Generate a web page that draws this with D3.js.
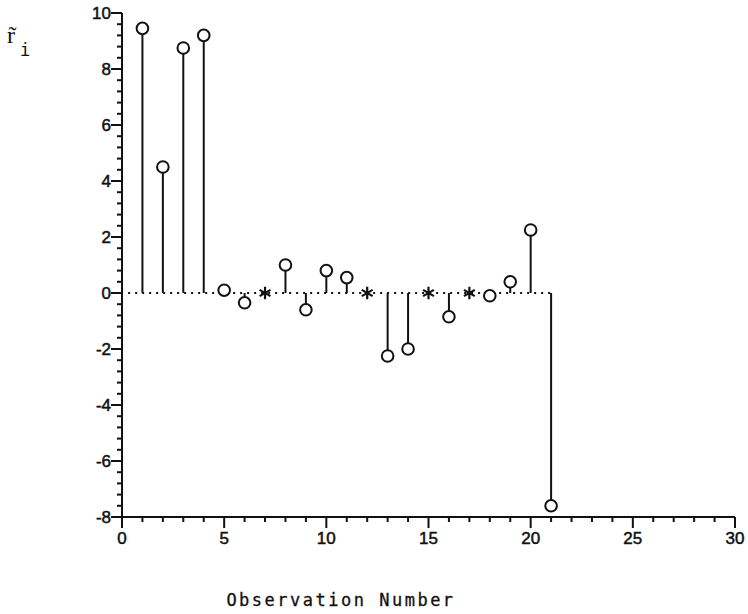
<!DOCTYPE html>
<html><head><meta charset="utf-8">
<script src="https://cdn.jsdelivr.net/npm/d3@7"></script>
<style>body{margin:0;background:#fff}</style>
</head><body>
<svg id="c" width="748" height="614"></svg>
<script>
const observations = [1,2,3,4,5,6,7,8,9,10,11,12,13,14,15,16,17,18,19,20,21];
const residuals = [9.45,4.5,8.75,9.2,0.1,-0.35,0,1.0,-0.6,0.8,0.55,0,-2.25,-2.0,0,-0.85,0,-0.1,0.4,2.25,-7.6];
const markers = ["o","o","o","o","o","o","*","o","o","o","o","*","o","o","*","o","*","o","o","o","o"];
const xTicks = [0,5,10,15,20,25,30];
const yTicks = [-8,-6,-4,-2,0,2,4,6,8,10];
const xLabel = "Observation Number";

const svg = d3.select("#c");
const x = d3.scaleLinear().domain([0,30]).range([122,735]);
const y = d3.scaleLinear().domain([-8,10]).range([517,13]);
const ink = "#111";

// axes lines
svg.append("line").attr("x1",x(0)).attr("x2",x(30)).attr("y1",y(-8)).attr("y2",y(-8)).attr("stroke",ink).attr("stroke-width",2);
svg.append("line").attr("x1",x(0)).attr("x2",x(0)).attr("y1",y(-8)).attr("y2",y(10)).attr("stroke",ink).attr("stroke-width",2);

// x ticks
const xMinor = d3.range(0,31,1);
svg.selectAll(".xm").data(xMinor).join("line")
  .attr("x1",d=>x(d)).attr("x2",d=>x(d))
  .attr("y1",y(-8)).attr("y2",d=> y(-8) + (d%5===0?11:5))
  .attr("stroke",ink).attr("stroke-width",2);
svg.selectAll(".xl").data(xTicks).join("text")
  .attr("x",d=>x(d)).attr("y",y(-8)+27).attr("text-anchor","middle")
  .attr("font-family","Liberation Sans, Arial, sans-serif").attr("font-size",17).attr("fill",ink)
  .attr("stroke",ink).attr("stroke-width",0.5)
  .text(d=>d);

// y ticks
const yMinor = d3.range(-8,10.01,0.4).map(v=>Math.round(v*10)/10);
svg.selectAll(".ym").data(yMinor).join("line")
  .attr("y1",d=>y(d)).attr("y2",d=>y(d))
  .attr("x1",x(0)).attr("x2",d=> x(0) - (Math.abs(d%2)<1e-6?11:5))
  .attr("stroke",ink).attr("stroke-width",2);
svg.selectAll(".yl").data(yTicks).join("text")
  .attr("x",x(0)-11).attr("y",d=>y(d)+6).attr("text-anchor","end")
  .attr("font-family","Liberation Sans, Arial, sans-serif").attr("font-size",17).attr("fill",ink)
  .attr("stroke",ink).attr("stroke-width",0.5)
  .text(d=>d);

// dotted zero line
svg.append("line").attr("x1",x(0.3)).attr("x2",x(21)).attr("y1",y(0)).attr("y2",y(0))
  .attr("stroke",ink).attr("stroke-width",2).attr("stroke-dasharray","2,5");

const data = observations.map((o,i)=>({o, v:residuals[i], m:markers[i]}));

// stems
svg.selectAll(".stem").data(data.filter(d=>d.m==="o")).join("line")
  .attr("x1",d=>x(d.o)).attr("x2",d=>x(d.o))
  .attr("y1",y(0)).attr("y2",d=>y(d.v))
  .attr("stroke",ink).attr("stroke-width",2);

// circles
svg.selectAll(".pt").data(data.filter(d=>d.m==="o")).join("circle")
  .attr("cx",d=>x(d.o)).attr("cy",d=>y(d.v)).attr("r",5.8)
  .attr("fill","#fff").attr("stroke",ink).attr("stroke-width",2);

// stars
svg.selectAll(".star").data(data.filter(d=>d.m==="*")).join("path")
  .attr("transform",d=>`translate(${x(d.o)},${y(d.v)})`)
  .attr("d",d3.symbol().type(d3.symbolAsterisk).size(110))
  .attr("stroke",ink).attr("stroke-width",2.2).attr("fill","none");

// x label
svg.append("text").attr("x",341).attr("y",606).attr("text-anchor","middle")
  .attr("font-family","DejaVu Sans Mono, monospace").attr("font-size",17)
  .attr("letter-spacing",2.5).attr("fill",ink).attr("stroke",ink).attr("stroke-width",0.3).text(xLabel);

// y label: r with combining tilde and subscript i
const yl = svg.append("text").attr("x",7).attr("y",43)
  .attr("font-family","Liberation Serif, serif").attr("font-size",24).attr("fill",ink);
yl.append("tspan").text("r\u0303");
yl.append("tspan").attr("font-family","DejaVu Sans Mono, monospace").attr("font-size",17)
  .attr("x",20).attr("y",56).text("i");
</script>
</body></html>
